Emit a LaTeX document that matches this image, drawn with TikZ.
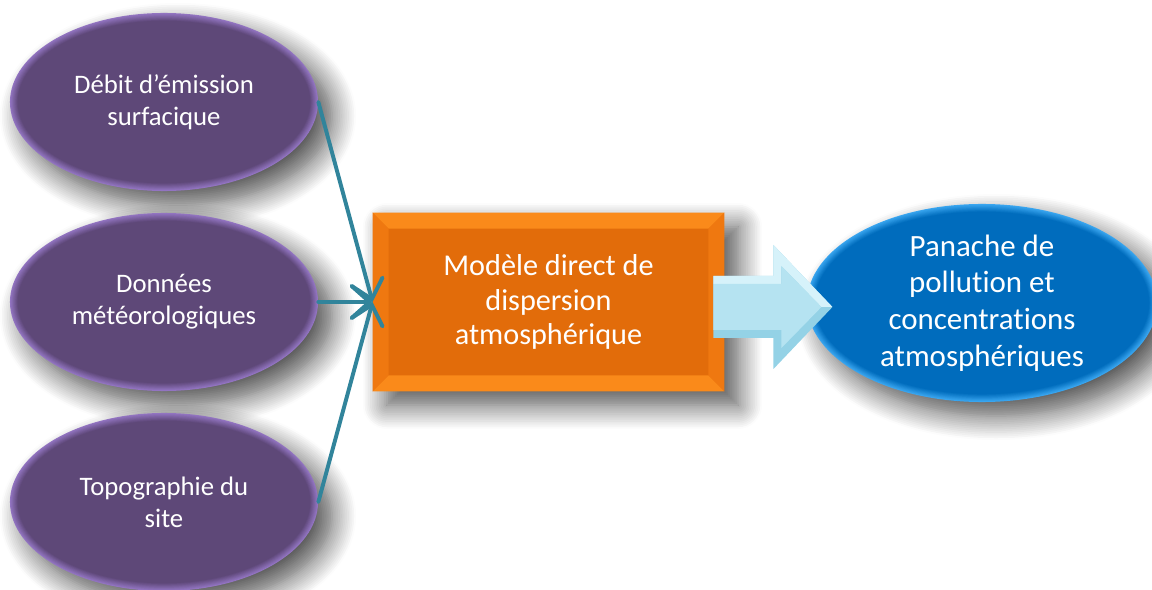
\documentclass[tikz,border=0pt]{standalone}
\usepackage{fontspec}
\setmainfont[Ligatures=NoCommon]{Carlito}
\usetikzlibrary{calc,shapes.geometric,arrows.meta,shadows.blur}

\definecolor{violetfonce}{HTML}{5E4878}
\definecolor{violetclair}{HTML}{9375C2}
\definecolor{bleufonce}{HTML}{006CBD}
\definecolor{bleuclair}{HTML}{3AA6F0}
\definecolor{orangeface}{HTML}{E26C0A}
\definecolor{orangebord}{HTML}{EF7810}
\definecolor{orangeclair}{HTML}{FA8A1A}
\definecolor{sarcelle}{HTML}{31849B}
\definecolor{cyanbord}{HTML}{94D2E6}
\definecolor{cyanclair}{HTML}{D6F2FA}
\definecolor{cyanface}{HTML}{B5E3F1}

\tikzset{
  ombre/.style={blur shadow={shadow xshift=0.35cm, shadow yshift=-0.35cm,
      shadow blur radius=0.6cm, shadow blur steps=14, shadow opacity=70}},
  halo/.style 2 args={fill=#2, path picture={
      \foreach \k [evaluate=\k as \m using 10*\k] in {1,...,10}
        \fill[#1!\m!#2] let \p1=($(path picture bounding box.north east)
            -(path picture bounding box.center)$) in
          (path picture bounding box.center)
          ellipse [x radius=\x1-\k*0.55pt, y radius=\y1-\k*0.55pt];}},
  entree/.style={ellipse, ombre, halo={violetfonce}{violetclair}, text=white,
      align=center, minimum width=7.7cm, minimum height=4.45cm, inner sep=0pt,
      font=\fontsize{19}{23}\selectfont},
  lien/.style={draw=sarcelle, line width=2.8pt, line cap=round,
      -{Straight Barb[length=4.5mm, width=8mm, line cap=round]}},
}

\begin{document}
\begin{tikzpicture}[x=0.025cm, y=-0.025cm]
  \useasboundingbox (0,0) rectangle (1152,590);
  % entrees
  \node[entree] (debit) at (164,102) {Débit d’émission\\surfacique};
  \node[entree] (meteo) at (164,302) {Données\\météorologiques};
  \node[entree] (topo) at (164,502) {Topographie du\\site};
  % modele
  \node[rectangle, ombre, fill=orangeface, minimum width=8.78cm,
        minimum height=4.45cm, inner sep=0pt] (modele) at (548.5,302) {};
  \fill[orangeclair] (modele.north west) -- (modele.north east) --
      ($(modele.north east)+(-16,16)$) -- ($(modele.north west)+(16,16)$) -- cycle;
  \fill[orangeclair] (modele.south west) -- (modele.south east) --
      ($(modele.south east)+(-16,-16)$) -- ($(modele.south west)+(16,-16)$) -- cycle;
  \fill[orangebord] (modele.north west) -- ($(modele.north west)+(16,16)$) --
      ($(modele.south west)+(16,-16)$) -- (modele.south west) -- cycle;
  \fill[orangebord] (modele.north east) -- ($(modele.north east)+(-16,16)$) --
      ($(modele.south east)+(-16,-16)$) -- (modele.south east) -- cycle;
  \node[text=white, align=center, font=\fontsize{21.5}{24.5}\selectfont]
      (titre) at (modele.center) {Modèle direct de\\dispersion\\atmosphérique};
  % sortie
  \node[ellipse, ombre, halo={bleufonce}{bleuclair}, text=white, align=center,
        minimum width=8.75cm, minimum height=4.95cm, inner sep=0pt,
        font=\fontsize{22}{26}\selectfont] (panache) at (982,303)
      {Panache de\\pollution et\\concentrations\\atmosphériques};
  % fleches
  \draw[lien] (debit.east) -- (modele.west);
  \draw[lien] (meteo.east) -- (modele.west);
  \draw[lien] (topo.east) -- (modele.west);
  \coordinate (queue) at ($(modele.east)+(-11,5)$);
  \fill[cyanbord] (queue) ++(0,-31) -- ++(60,0) -- ++(0,-31) -- ++(59,62)
      -- ++(-59,62) -- ++(0,-31) -- ++(-60,0) -- cycle;
  \fill[cyanclair] (queue) ++(0,-31) -- ++(60,0) -- ++(0,-31) -- ++(59,62)
      -- ++(-11,0) -- ++(-40,-41) -- ++(0,18) -- ++(-68,0) -- cycle;
  \fill[cyanface] (queue) ++(0,-23) -- ++(68,0) -- ++(0,-18) -- ++(40,41)
      -- ++(-40,41) -- ++(0,-18) -- ++(-68,0) -- cycle;
\end{tikzpicture}
\end{document}
